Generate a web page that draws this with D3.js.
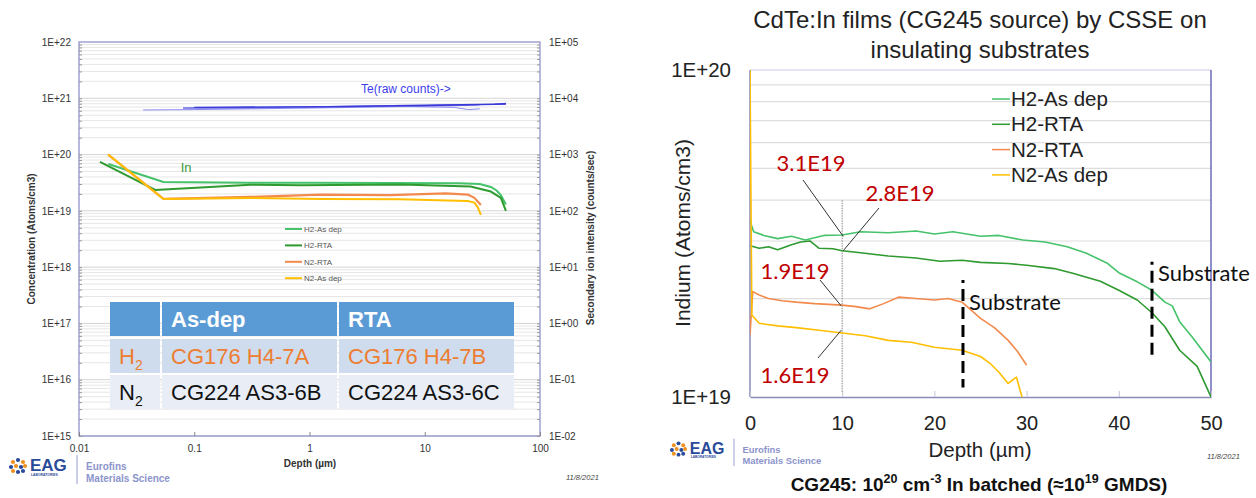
<!DOCTYPE html>
<html>
<head>
<meta charset="utf-8">
<script src="https://cdn.jsdelivr.net/npm/d3@7"></script>
<style>
body { margin: 0; background: #fff; }
svg { display: block; font-family: "Liberation Sans", Arial, sans-serif; }
</style>
</head>
<body>
<svg id="chart" width="1256" height="498"></svg>
<script>

// ---------------- left panel: SIMS profile on log depth ----------------
var depthTicksLog = [0.01, 0.1, 1, 10, 100];
var depthTickLabelsLog = ["0.01", "0.1", "1", "10", "100"];
var concTicks = [1e15, 1e16, 1e17, 1e18, 1e19, 1e20, 1e21, 1e22];
var concTickLabels = ["1E+15", "1E+16", "1E+17", "1E+18", "1E+19", "1E+20", "1E+21", "1E+22"];
var countTicks = [1e-2, 1e-1, 1, 1e1, 1e2, 1e3, 1e4, 1e5];
var countTickLabels = ["1E-02", "1E-01", "1E+00", "1E+01", "1E+02", "1E+03", "1E+04", "1E+05"];

var seriesNames = ["H2-As dep", "H2-RTA", "N2-RTA", "N2-As dep"];

// [depth um, In atoms/cm3]
var logH2AsDep = [[0.018, 6.8e19], [0.054, 3.25e19], [0.3, 3.15e19], [1, 3.15e19], [5, 3.12e19], [20, 3.1e19], [30, 3.0e19], [37.5, 2.66e19], [42, 2.3e19], [45.8, 1.9e19], [50.6, 1.3e19]];
var logH2Rta = [[0.0152, 7.4e19], [0.0458, 2.35e19], [0.31, 2.9e19], [0.84, 2.85e19], [6.2, 2.95e19], [25, 2.7e19], [37.5, 2.2e19], [45.8, 1.7e19], [50.6, 1.0e19]];
var logN2Rta = [[0.0179, 1.0e20], [0.054, 1.63e19], [0.31, 1.77e19], [1.25, 1.95e19], [5, 1.9e19], [15.2, 2.05e19], [23.6, 1.95e19], [27, 1.7e19], [30.7, 1.27e19]];
var logN2AsDep = [[0.0179, 1.0e20], [0.054, 1.63e19], [0.31, 1.7e19], [1.25, 1.63e19], [6, 1.6e19], [23.6, 1.5e19], [27, 1.4e19], [29, 1.13e19], [30.7, 8.5e18]];

// Te raw counts traces [depth um, counts/sec]
var teTraceA = [[0.036, 6200], [0.1, 6300], [1, 6700], [10, 7200], [25, 7500], [30, 7600]];
var teTraceB = [[0.08, 6700], [1, 7000], [10, 7500], [30, 7800], [50.6, 7900]];
var teTraceC = [[0.08, 6600], [1, 6900], [5, 7200], [18, 6900], [24, 6300], [30, 6500]];
var teTraceD = [[0.1, 6900], [1, 7050], [10, 7400], [40, 7800], [50.6, 8100]];

var tableHeader = ["", "As-dep", "RTA"];
var tableRows = [["H", "CG176 H4-7A", "CG176 H4-7B"], ["N", "CG224 AS3-6B", "CG224 AS3-6C"]];

// ---------------- right panel: In profile on linear depth ----------------
var depthTicksLin = [0, 10, 20, 30, 40, 50];
var indiumTicks = [1e19, 1e20];
var indiumTickLabels = ["1E+19", "1E+20"];

var linH2AsDep = [[0, 3.45e19], [0.4, 3.2e19], [1.5, 3.12e19], [3, 3.05e19], [4.5, 3.1e19], [6, 3.02e19], [8, 3.12e19], [10, 3.13e19], [12, 3.2e19], [15, 3.18e19], [18, 3.22e19], [20, 3.15e19], [22, 3.2e19], [25, 3.1e19], [27, 3.12e19], [29.6, 3.02e19], [32, 2.98e19], [34.4, 2.88e19], [36.5, 2.75e19], [38.7, 2.57e19], [40, 2.4e19], [42, 2.25e19], [43.6, 2.12e19], [45, 1.95e19], [45.8, 1.9e19], [46.6, 1.7e19], [48, 1.52e19], [50, 1.28e19]];
var linH2Rta = [[0, 2.9e19], [1, 2.85e19], [2, 2.88e19], [3, 2.82e19], [4.5, 2.92e19], [5.5, 2.98e19], [6.5, 3.0e19], [7.5, 2.85e19], [9, 2.84e19], [10, 2.8e19], [12, 2.76e19], [15, 2.7e19], [18, 2.66e19], [20.6, 2.6e19], [23, 2.62e19], [25, 2.58e19], [28, 2.56e19], [30, 2.53e19], [33, 2.47e19], [35, 2.39e19], [38, 2.26e19], [40, 2.12e19], [42, 1.98e19], [43.6, 1.81e19], [45, 1.64e19], [46.6, 1.39e19], [48.5, 1.24e19], [50, 1.0e19]];
var linN2Rta = [[0, 1.55e19], [0.3, 2.1e19], [1, 2.05e19], [2, 2.0e19], [3.5, 1.97e19], [5, 1.95e19], [7, 1.93e19], [10, 1.91e19], [11.5, 1.89e19], [13, 1.86e19], [14.5, 1.93e19], [16.1, 2.02e19], [18, 2.0e19], [20, 1.98e19], [21.5, 2.0e19], [23, 1.95e19], [25, 1.74e19], [26.5, 1.63e19], [28, 1.49e19], [29, 1.38e19], [30, 1.25e19]];
var linN2AsDep = [[0, 1.0e20], [0.2, 1.78e19], [1, 1.68e19], [3, 1.65e19], [5, 1.63e19], [7.5, 1.6e19], [10, 1.57e19], [12.5, 1.54e19], [15, 1.49e19], [17.5, 1.47e19], [20, 1.42e19], [23, 1.39e19], [25, 1.33e19], [26, 1.27e19], [27, 1.19e19], [28, 1.1e19], [28.9, 1.15e19], [29.5, 1.0e19]];

var calloutLabels = ["3.1E19", "2.8E19", "1.9E19", "1.6E19"];
var calloutValues = [3.1e19, 2.8e19, 1.9e19, 1.6e19];
var calloutDepth = 10;
var substrateMarks = [{depth: 23.1, from: 1.07e19, to: 2.28e19}, {depth: 43.6, from: 1.31e19, to: 2.59e19}];

var colors = ["#45c26a", "#2e9a30", "#f28a4e", "#ffbf00"];

var svg = d3.select("#chart");


/*
 * ProfileVis - left SIMS plot (log-log, secondary axis for Te counts)
 */
ProfileVis = function(_svg){
	this.svg = _svg;
	this.series = [logH2AsDep, logH2Rta, logN2Rta, logN2AsDep];
	this.te = [teTraceA, teTraceB, teTraceC, teTraceD];
	this.initVis();
}

ProfileVis.prototype.initVis = function(){
	var vis = this;

	vis.box = {left: 79, right: 540, top: 42, bottom: 436};
	vis.g = vis.svg.append("g");

	vis.x = d3.scaleLog().domain([0.01, 100]).range([vis.box.left, vis.box.right]);
	vis.y = d3.scaleLog().domain([1e15, 1e22]).range([vis.box.bottom, vis.box.top]);
	vis.y2 = d3.scaleLog().domain([1e-2, 1e5]).range([vis.box.bottom, vis.box.top]);

	// minor gridlines, every 1..9 of each decade
	var minors = [];
	for (var e = 15; e < 22; e++) {
		for (var k = 1; k < 10; k++) minors.push(k * Math.pow(10, e));
	}
	vis.g.append("g").selectAll("line")
		.data(minors)
		.enter().append("line")
		.attr("x1", vis.box.left).attr("x2", vis.box.right)
		.attr("y1", d => vis.y(d)).attr("y2", d => vis.y(d))
		.attr("stroke", (d, i) => i % 9 == 0 ? "#d4d4d4" : "#e6e6e6")
		.attr("stroke-width", 1);

	vis.g.append("rect")
		.attr("x", vis.box.left).attr("y", vis.box.top)
		.attr("width", vis.box.right - vis.box.left)
		.attr("height", vis.box.bottom - vis.box.top)
		.attr("fill", "none").attr("stroke", "#8a8ac8").attr("stroke-width", 1.2);

	// axes
	var minorL = d3.axisLeft(vis.y).tickValues(minors).tickSize(-3).tickFormat("");
	vis.g.append("g").attr("transform", "translate(" + vis.box.left + ",0)").call(minorL)
		.call(g => g.select(".domain").remove())
		.selectAll("line").attr("stroke", "#999");
	var minorR = d3.axisRight(vis.y).tickValues(minors).tickSize(-3).tickFormat("");
	vis.g.append("g").attr("transform", "translate(" + vis.box.right + ",0)").call(minorR)
		.call(g => g.select(".domain").remove())
		.selectAll("line").attr("stroke", "#999");

	vis.yAxis = d3.axisLeft(vis.y).tickValues(concTicks).tickSize(0).tickPadding(8)
		.tickFormat((d, i) => concTickLabels[i]);
	vis.g.append("g").attr("transform", "translate(" + vis.box.left + ",0)").call(vis.yAxis)
		.call(g => g.select(".domain").remove())
		.selectAll("text").attr("font-size", 10).attr("fill", "#333").attr("font-family", "Liberation Sans, Arial");

	vis.y2Axis = d3.axisRight(vis.y2).tickValues(countTicks).tickSize(0).tickPadding(9)
		.tickFormat((d, i) => countTickLabels[i]);
	vis.g.append("g").attr("transform", "translate(" + vis.box.right + ",0)").call(vis.y2Axis)
		.call(g => g.select(".domain").remove())
		.selectAll("text").attr("font-size", 10).attr("fill", "#333").attr("font-family", "Liberation Sans, Arial");

	vis.xAxis = d3.axisBottom(vis.x).tickValues(depthTicksLog).tickSizeInner(-4).tickSizeOuter(0).tickPadding(9)
		.tickFormat((d, i) => depthTickLabelsLog[i]);
	vis.g.append("g").attr("transform", "translate(0," + vis.box.bottom + ")").call(vis.xAxis)
		.call(g => g.select(".domain").remove())
		.call(g => g.selectAll("line").attr("stroke", "#888"))
		.selectAll("text").attr("font-size", 10).attr("fill", "#333").attr("font-family", "Liberation Sans, Arial");

	// axis titles
	vis.g.append("text")
		.attr("transform", "translate(35,239) rotate(-90)")
		.attr("text-anchor", "middle")
		.attr("font-size", 10).attr("font-weight", "bold").attr("fill", "#333")
		.text("Concentration (Atoms/cm3)");
	vis.g.append("text")
		.attr("transform", "translate(594,238) rotate(-90)")
		.attr("text-anchor", "middle")
		.attr("font-size", 10).attr("font-weight", "bold").attr("fill", "#333")
		.text("Secondary ion intensity (counts/sec)");
	vis.g.append("text")
		.attr("x", 310).attr("y", 467)
		.attr("text-anchor", "middle")
		.attr("font-size", 10).attr("font-weight", "bold").attr("fill", "#333")
		.text("Depth (\u00b5m)");

	vis.line = d3.line().x(d => vis.x(d[0])).y(d => vis.y(d[1]));
	vis.teLine = d3.line().x(d => vis.x(d[0])).y(d => vis.y2(d[1]));

	vis.updateVis();
}

ProfileVis.prototype.updateVis = function(){
	var vis = this;

	vis.g.append("g").selectAll("path")
		.data(vis.te)
		.enter().append("path")
		.attr("d", vis.teLine)
		.attr("fill", "none")
		.attr("stroke", (d, i) => i % 2 == 0 ? "#8c8cf2" : "#3a3ad8")
		.attr("stroke-width", (d, i) => i % 2 == 0 ? 1 : 1.4);

	vis.g.append("g").selectAll("path")
		.data(vis.series)
		.enter().append("path")
		.attr("d", vis.line)
		.attr("fill", "none")
		.attr("stroke", (d, i) => colors[i])
		.attr("stroke-width", (d, i) => i == 2 ? 2.2 : 2)
		.attr("stroke-linejoin", "round");

	vis.g.append("text")
		.attr("x", vis.x(0.085)).attr("y", vis.y(6e19)).attr("dy", "0.35em")
		.attr("text-anchor", "middle")
		.attr("font-size", 13).attr("fill", "#3a9a3a")
		.text("In");
	vis.g.append("text")
		.attr("x", vis.x(2.8)).attr("y", vis.y2(1.5e4)).attr("dy", "0.35em")
		.attr("font-size", 12).attr("fill", "#3d3df0")
		.text("Te(raw counts)->");

	// legend
	var leg = vis.g.append("g").selectAll("g")
		.data(seriesNames)
		.enter().append("g")
		.attr("transform", (d, i) => "translate(285," + (229 + i * 16.4) + ")");
	leg.append("line").attr("x1", 0).attr("x2", 17)
		.attr("stroke", (d, i) => colors[i]).attr("stroke-width", 2);
	leg.append("text").attr("x", 19).attr("dy", "0.35em")
		.attr("font-size", 8).attr("fill", "#555").text(d => d);

	vis.drawTable();
}

ProfileVis.prototype.drawTable = function(){
	var vis = this;
	var colX = [110, 162, 339], colW = [50, 175, 175];
	var rowY = [302, 339, 375], rowH = [34, 34, 34];
	var fills = ["#5b9bd5", "#cfdcee", "#e8edf6"];
	var textFill = ["#fff", "#ed7d31", "#111"];
	var rows = [tableHeader].concat(tableRows);

	var t = vis.g.append("g");
	rows.forEach(function(row, r) {
		row.forEach(function(cell, c) {
			t.append("rect")
				.attr("x", colX[c]).attr("y", rowY[r])
				.attr("width", colW[c]).attr("height", rowH[r])
				.attr("fill", fills[r]);
			if (cell == "") return;
			var txt = t.append("text")
				.attr("x", colX[c] + 9)
				.attr("y", rowY[r] + rowH[r] / 2).attr("dy", "0.36em")
				.attr("font-size", 22)
				.attr("font-weight", r == 0 ? "bold" : "normal")
				.attr("fill", textFill[r])
				.text(cell);
			if (r > 0 && c == 0) {
				txt.append("tspan").attr("dy", 6).attr("font-size", 14).text("2");
			}
		});
	});
}


/*
 * DepthVis - right plot (linear depth, log indium)
 */
DepthVis = function(_svg){
	this.svg = _svg;
	this.series = [linH2AsDep, linH2Rta, linN2Rta, linN2AsDep];
	this.initVis();
}

DepthVis.prototype.initVis = function(){
	var vis = this;

	vis.box = {left: 750, right: 1211, top: 70, bottom: 397};
	vis.g = vis.svg.append("g");

	vis.x = d3.scaleLinear().domain([0, 50]).range([vis.box.left, vis.box.right]);
	vis.y = d3.scaleLog().domain([1e19, 1e20]).range([vis.box.bottom, vis.box.top]);

	vis.svg.append("clipPath").attr("id", "clipR")
		.append("rect")
		.attr("x", vis.box.left).attr("y", vis.box.top)
		.attr("width", vis.box.right - vis.box.left)
		.attr("height", vis.box.bottom - vis.box.top);

	// title
	vis.g.append("text")
		.attr("x", 980).attr("y", 28)
		.attr("text-anchor", "middle").attr("font-size", 24).attr("fill", "#222")
		.text("CdTe:In films (CG245 source) by CSSE on");
	vis.g.append("text")
		.attr("x", 980).attr("y", 58)
		.attr("text-anchor", "middle").attr("font-size", 24).attr("fill", "#222")
		.text("insulating substrates");

	var grid = d3.range(2, 10).map(k => k * 1e19);
	vis.g.append("g").selectAll("line")
		.data(grid)
		.enter().append("line")
		.attr("x1", vis.box.left).attr("x2", vis.box.right)
		.attr("y1", d => vis.y(d)).attr("y2", d => vis.y(d))
		.attr("stroke", "#dedede").attr("stroke-width", 1.2);

	// frame
	vis.g.append("line")
		.attr("x1", vis.box.left).attr("x2", vis.box.right)
		.attr("y1", vis.box.top).attr("y2", vis.box.top)
		.attr("stroke", "#c9c9e8").attr("stroke-width", 1.2);
	vis.g.append("line")
		.attr("x1", vis.box.right).attr("x2", vis.box.right)
		.attr("y1", vis.box.top).attr("y2", vis.box.bottom)
		.attr("stroke", "#6a6ab8").attr("stroke-width", 1.5);
	vis.g.append("line")
		.attr("x1", vis.box.left).attr("x2", vis.box.left)
		.attr("y1", vis.box.top).attr("y2", vis.box.bottom)
		.attr("stroke", "#8a8ab8").attr("stroke-width", 1.5);

	vis.xAxis = d3.axisBottom(vis.x).tickValues(depthTicksLin).tickSizeInner(-6).tickSizeOuter(0).tickPadding(19);
	vis.g.append("g").attr("transform", "translate(0," + vis.box.bottom + ")").call(vis.xAxis)
		.call(g => g.select(".domain").attr("stroke", "#8a8ab8").attr("stroke-width", 1.5))
		.call(g => g.selectAll("line").attr("stroke", "#c4c4d8"))
		.selectAll("text").attr("font-size", 20).attr("fill", "#222").attr("font-family", "Liberation Sans, Arial");

	vis.yAxis = d3.axisLeft(vis.y).tickValues(indiumTicks).tickSize(0).tickPadding(19)
		.tickFormat((d, i) => indiumTickLabels[i]);
	vis.g.append("g").attr("transform", "translate(" + vis.box.left + ",0)").call(vis.yAxis)
		.call(g => g.select(".domain").remove())
		.selectAll("text").attr("font-size", 20.5).attr("fill", "#222").attr("font-family", "Liberation Sans, Arial");

	vis.g.append("text")
		.attr("transform", "translate(690,233) rotate(-90)")
		.attr("text-anchor", "middle").attr("font-size", 21).attr("fill", "#222")
		.text("Indium (Atoms/cm3)");
	vis.g.append("text")
		.attr("x", 980).attr("y", 457)
		.attr("text-anchor", "middle").attr("font-size", 20.5).attr("fill", "#222")
		.text("Depth (\u00b5m)");

	vis.line = d3.line().x(d => vis.x(d[0])).y(d => vis.y(d[1]));

	vis.updateVis();
}

DepthVis.prototype.updateVis = function(){
	var vis = this;

	// reference line at 10 um
	vis.g.append("line")
		.attr("x1", vis.x(calloutDepth)).attr("x2", vis.x(calloutDepth))
		.attr("y1", vis.y(4.0e19)).attr("y2", vis.y(1.03e19))
		.attr("stroke", "#999").attr("stroke-width", 1.2)
		.attr("stroke-dasharray", "1.5,1");

	vis.g.append("g").attr("clip-path", "url(#clipR)")
		.selectAll("path")
		.data(vis.series)
		.enter().append("path")
		.attr("d", vis.line)
		.attr("fill", "none")
		.attr("stroke", (d, i) => colors[i])
		.attr("stroke-width", 1.6)
		.attr("stroke-linejoin", "round");

	// legend
	var leg = vis.g.append("g").selectAll("g")
		.data(seriesNames)
		.enter().append("g")
		.attr("transform", (d, i) => "translate(992," + (99 + i * 25.3) + ")");
	leg.append("line").attr("x1", 0).attr("x2", 18)
		.attr("stroke", (d, i) => colors[i]).attr("stroke-width", 1.5);
	leg.append("text").attr("x", 19).attr("dy", "0.35em")
		.attr("font-size", 20.5).attr("fill", "#222").text(d => d);

	// callouts
	var textPos = [[811, 163], [900, 193], [795, 271], [795, 375]];
	var lineStart = [[803, 180], [879, 208], [820, 280], [818, 358]];
	calloutLabels.forEach(function(lbl, i) {
		vis.g.append("line")
			.attr("x1", lineStart[i][0]).attr("y1", lineStart[i][1])
			.attr("x2", vis.x(calloutDepth) + (i < 2 ? 1 : -1)).attr("y2", vis.y(calloutValues[i]))
			.attr("stroke", "#333").attr("stroke-width", 1);
		vis.g.append("text")
			.attr("x", textPos[i][0]).attr("y", textPos[i][1]).attr("dy", "0.36em")
			.attr("text-anchor", "middle")
			.attr("font-family", "Lato, 'Open Sans', sans-serif")
			.attr("font-size", 22).attr("fill", "#c00000")
			.text(lbl);
	});

	// substrate markers
	var labelDy = [302, 273];
	substrateMarks.forEach(function(m, i) {
		vis.g.append("line")
			.attr("x1", vis.x(m.depth)).attr("x2", vis.x(m.depth))
			.attr("y1", vis.y(m.to)).attr("y2", vis.y(m.from))
			.attr("stroke", "#000").attr("stroke-width", 3)
			.attr("stroke-dasharray", "3,6,12,6,12,6,12,6,12,6,12,6,12");
		vis.g.append("text")
			.attr("x", vis.x(m.depth) + 6).attr("y", labelDy[i]).attr("dy", "0.36em")
			.attr("font-family", "Lato, 'Open Sans', sans-serif")
			.attr("font-size", 22).attr("fill", "#111")
			.text("Substrate");
	});

	// caption
	var cap = vis.g.append("text")
		.attr("x", 979).attr("y", 491)
		.attr("text-anchor", "middle").attr("font-size", 19).attr("font-weight", "bold").attr("fill", "#111");
	var parts = [["CG245: 10", false], ["20", true], [" cm", false], ["-3", true], [" In batched (\u224810", false], ["19", true], [" GMDS)", false]];
	var up = false;
	parts.forEach(function(p) {
		var ts = cap.append("tspan").text(p[0]);
		if (p[1]) {
			ts.attr("font-size", 12.5);
			if (!up) ts.attr("dy", -8);
			up = true;
		} else if (up) {
			ts.attr("dy", 8);
			up = false;
		}
	});
}


// logo block: EAG dots + name, divider, Eurofins text
function drawLogo(x0, cy, s) {
	var g = svg.append("g").attr("transform", "translate(" + x0 + "," + cy + ") scale(" + s + ")");
	var dots = [[3, -4, "#f0901e"], [8, -6, "#2a4a9a"], [13, -4, "#f0901e"], [1, 1, "#2a4a9a"], [6, 0, "#f0901e"],
		[11, 1, "#2a4a9a"], [15, 0, "#f0901e"], [3, 5, "#f0901e"], [8, 6, "#2a4a9a"], [13, 5, "#2a4a9a"]];
	g.selectAll("circle").data(dots).enter().append("circle")
		.attr("cx", d => d[0]).attr("cy", d => d[1]).attr("r", 2.1).attr("fill", d => d[2]);
	g.append("text").attr("x", 20).attr("y", 5)
		.attr("font-size", 17).attr("font-weight", "900")
		.attr("fill", "#2a4a9a").text("EAG");
	g.append("text").attr("x", 21).attr("y", 10)
		.attr("font-size", 3.4).attr("font-weight", "bold").attr("fill", "#2a4a9a").text("LABORATORIES");
	g.append("line").attr("x1", 67).attr("x2", 67).attr("y1", -11).attr("y2", 18)
		.attr("stroke", "#b8bee0").attr("stroke-width", 1.5);
	g.append("text").attr("x", 76).attr("y", 4)
		.attr("font-size", 10).attr("font-weight", "bold").attr("fill", "#8c94cc").text("Eurofins");
	g.append("text").attr("x", 76).attr("y", 16)
		.attr("font-size", 10).attr("font-weight", "bold").attr("fill", "#8c94cc").text("Materials Science");
}

function drawDate(x, y) {
	svg.append("text").attr("x", x).attr("y", y)
		.attr("font-size", 7.5).attr("font-style", "italic").attr("fill", "#444")
		.text("11/8/2021");
}

var profileVis = new ProfileVis(svg);
var depthVis = new DepthVis(svg);

drawLogo(10, 466, 1);
drawLogo(671, 449, 0.94);
drawDate(566, 480);
drawDate(1207, 459);

</script>
</body>
</html>
